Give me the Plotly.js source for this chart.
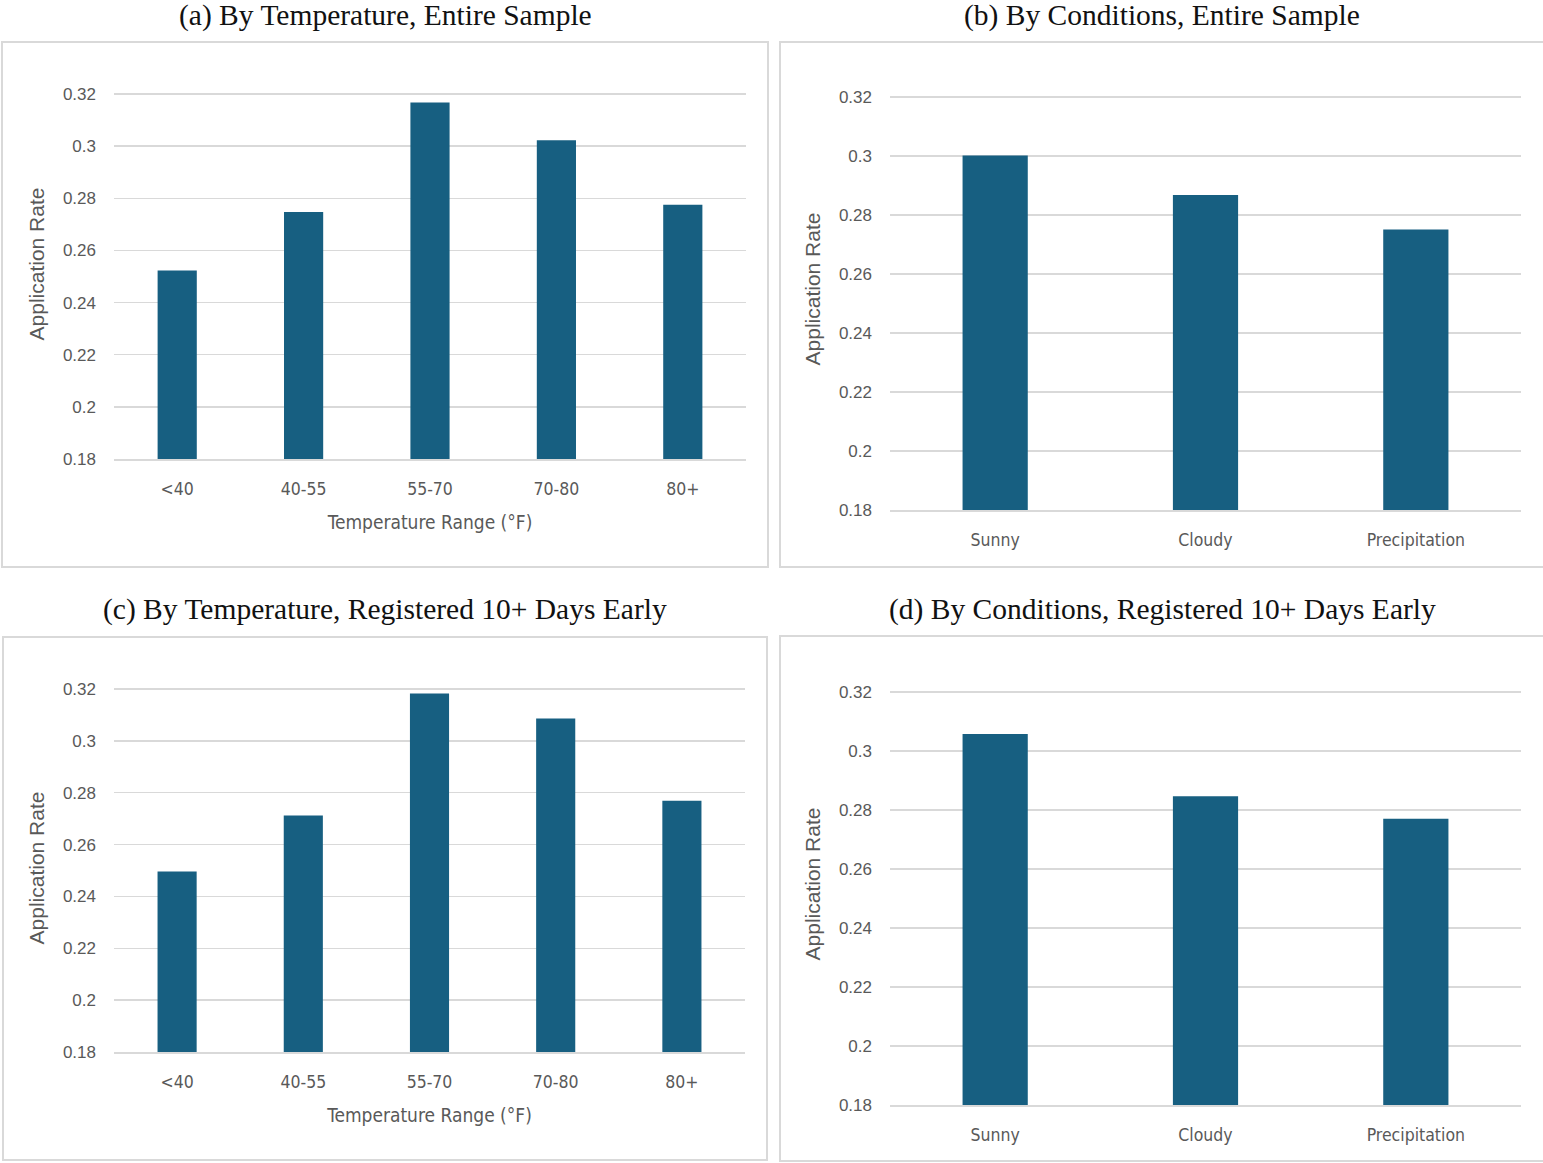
<!DOCTYPE html>
<html><head><meta charset="utf-8">
<script src="https://cdn.plot.ly/plotly-3.0.1.min.js"></script>
<style>html,body{margin:0;padding:0;background:#fff}</style></head>
<body><div id="chart" style="width:1543px;height:1163px"></div>
<script>
// ---- data ----
const tempCategories = ["<40", "40-55", "55-70", "70-80", "80+"];
const condCategories = ["Sunny", "Cloudy", "Precipitation"];
const tempEntire = [0.2523, 0.2747, 0.3167, 0.3023, 0.2775];
const condEntire = [0.3002, 0.2868, 0.2751];
const tempEarly = [0.2496, 0.2712, 0.3183, 0.3086, 0.2769];
const condEarly = [0.3058, 0.2847, 0.2770];
const yTickVals = [0.18, 0.2, 0.22, 0.24, 0.26, 0.28, 0.3, 0.32];
const yTickText = ["0.18", "0.2", "0.22", "0.24", "0.26", "0.28", "0.3", "0.32"];
const panelTitles = [
  "(a) By Temperature, Entire Sample",
  "(b) By Conditions, Entire Sample",
  "(c) By Temperature, Registered 10+ Days Early",
  "(d) By Conditions, Registered 10+ Days Early"
];
const xTitleTemp = "Temperature Range (°F)";
const yTitleText = "Application Rate";

// ---- layout geometry ----
const W = 1543, H = 1163;
const fx = p => p / W;
const fy = p => 1 - p / H;
const BAR = "#175f81", GRID = "#d9d9d9", TXT = "#595959";
const NARROW = "Liberation Sans Narrow, DejaVu Sans Condensed, Roboto, sans-serif";

const panels = [
  {cats: tempCategories, vals: tempEntire, xt: xTitleTemp, x0: 114, x1: 746, y32: 94, y18: 459, top: 69, box: [2, 42, 768, 567], tx: 385, ty: 15},
  {cats: condCategories, vals: condEntire, xt: "", x0: 890, x1: 1521, y32: 97, y18: 510, top: 68, box: [780, 42, 1550, 567], tx: 1162, ty: 15},
  {cats: tempCategories, vals: tempEarly, xt: xTitleTemp, x0: 114, x1: 745, y32: 689, y18: 1052, top: 684, box: [3, 637, 767, 1160], tx: 385, ty: 609},
  {cats: condCategories, vals: condEarly, xt: "", x0: 890, x1: 1521, y32: 692, y18: 1105, top: 663, box: [780, 636, 1550, 1161], tx: 1162, ty: 609}
];

const data = [];
const layout = {
  width: W, height: H,
  margin: {l: 0, r: 0, t: 0, b: 0},
  paper_bgcolor: "#fff", plot_bgcolor: "#fff",
  showlegend: false,
  bargap: 0.69,
  shapes: [], annotations: []
};

panels.forEach((p, i) => {
  const s = i === 0 ? "" : String(i + 1);
  data.push({
    type: "bar", x: p.cats, y: p.vals,
    xaxis: "x" + s, yaxis: "y" + s,
    marker: {color: BAR, line: {width: 0}},
    hoverinfo: "x+y"
  });
  const yTop = 0.18 + 0.14 * (p.y18 - p.top) / (p.y18 - p.y32);
  layout["xaxis" + s] = {
    domain: [fx(p.x0), fx(p.x1)],
    anchor: "y" + s,
    type: "category",
    range: [-0.5, p.cats.length - 0.5],
    showgrid: false, zeroline: false,
    showline: true, linecolor: GRID, linewidth: 1.5,
    ticks: "", ticklabelstandoff: 13,
    tickfont: {family: NARROW, size: 17.5, color: TXT},
    title: {text: p.xt, standoff: 18, font: {family: NARROW, size: 19, color: TXT}},
    fixedrange: true
  };
  layout["yaxis" + s] = {
    domain: [fy(p.y18), fy(p.top)],
    anchor: "x" + s,
    range: [0.18, yTop],
    tickmode: "array", tickvals: yTickVals, ticktext: yTickText,
    showgrid: true, gridcolor: GRID, gridwidth: 1.5,
    zeroline: false, showline: false,
    ticks: "", ticklabelstandoff: 17,
    tickfont: {family: "Liberation Sans, Arial, sans-serif", size: 17, color: TXT},
    title: {text: yTitleText, standoff: 12, font: {family: "Liberation Sans, Arial, sans-serif", size: 21, color: TXT}},
    fixedrange: true
  };
  layout.shapes.push({
    type: "rect", xref: "paper", yref: "paper",
    x0: fx(p.box[0]), x1: fx(p.box[2]), y0: fy(p.box[3]), y1: fy(p.box[1]),
    line: {color: GRID, width: 2}, fillcolor: "rgba(0,0,0,0)", layer: "below"
  });
  layout.annotations.push({
    xref: "paper", yref: "paper", x: fx(p.tx), y: fy(p.ty),
    xanchor: "center", yanchor: "middle", showarrow: false,
    text: panelTitles[i],
    font: {family: "Liberation Serif, Times New Roman, serif", size: 29.5, color: "#111"}
  });
});

Plotly.newPlot("chart", data, layout, {displayModeBar: false, staticPlot: true});
</script>
</body></html>
